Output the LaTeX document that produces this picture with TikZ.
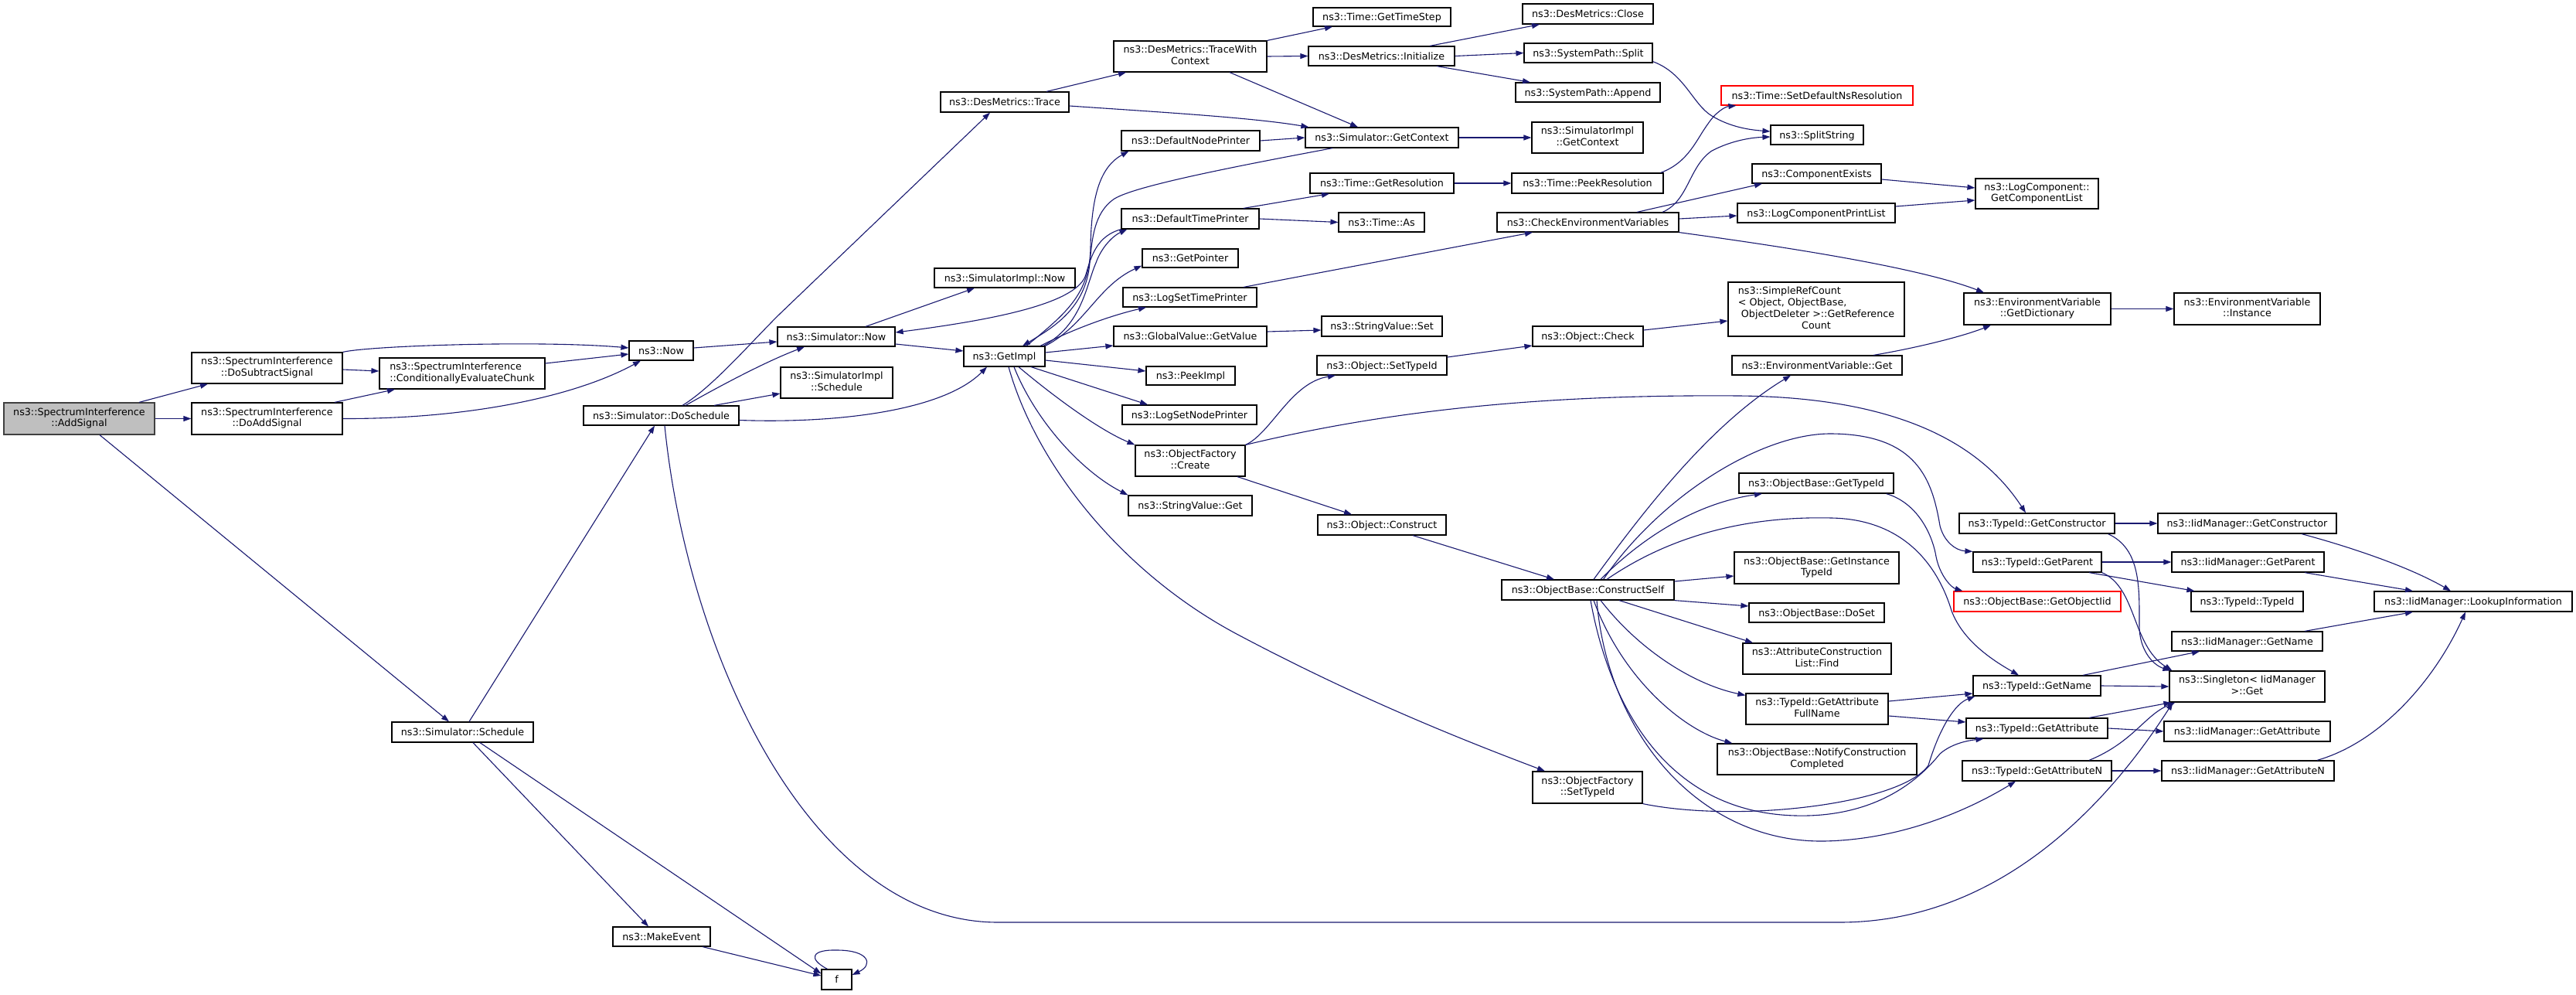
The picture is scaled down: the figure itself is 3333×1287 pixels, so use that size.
\documentclass[tikz,border=0pt]{standalone}
\usepackage{fontspec}
\setmainfont{DejaVu Sans}
\usetikzlibrary{arrows.meta}
\definecolor{edgec}{HTML}{191970}
\definecolor{rootfill}{HTML}{BFBFBF}
\newcommand\nodefont{\fontsize{12.7}{14.8}\selectfont}
\newcommand\twoline[2]{\begin{tabular}{@{}l@{}}#1\\\multicolumn{1}{@{}c@{}}{#2}\end{tabular}}
\newcommand\gnode[7][box1]{%
  \pgfmathsetmacro\ndcx{(#3+#5)/2}%
  \pgfmathsetmacro\ndcy{(#4+#6)/2}%
  \pgfmathsetmacro\ndw{#5-#3}%
  \pgfmathsetmacro\ndh{#6-#4}%
  \node[#1,minimum width=\ndw pt,minimum height=\ndh pt] (#2) at (\ndcx,\ndcy) {#7};}
\tikzset{
  boxbase/.style={draw=black, line width=1.2pt, fill=white, inner sep=0pt, font=\nodefont},
  box1/.style={boxbase, text height=9.3pt, text depth=0pt},
  box2/.style={boxbase},
  rootbox/.style={box2, fill=rootfill, draw=black!75},
  redbox/.style={box1, draw=red},
  call/.style={draw=edgec, line width=1.1pt, -{Triangle[length=10pt,width=7pt]}},
}
\begin{document}
\begin{tikzpicture}[x=1pt,y=-1pt]
\fill[white] (0,0) rectangle (3333,1287);
\useasboundingbox (0,0) rectangle (3333,1287);
% ---------------- nodes ----------------
\gnode[rootbox]{root}{5}{521}{200}{562}{\twoline{ns3::SpectrumInterference}{::AddSignal}}
\gnode[box2]{dosub}{248}{456}{443}{496}{\twoline{ns3::SpectrumInterference}{::DoSubtractSignal}}
\gnode[box2]{doadd}{248}{521}{443}{562}{\twoline{ns3::SpectrumInterference}{::DoAddSignal}}
\gnode[box2]{cond}{491}{463}{705}{503}{\twoline{ns3::SpectrumInterference}{::ConditionallyEvaluateChunk}}
\gnode{now}{814}{441}{897}{466}{ns3::Now}
\gnode{simnow}{1006}{423}{1158}{448}{ns3::Simulator::Now}
\gnode{siminow}{1209}{347}{1391}{372}{ns3::SimulatorImpl::Now}
\gnode[box2]{simisched}{1010}{475}{1155}{515}{\twoline{ns3::SimulatorImpl}{::Schedule}}
\gnode{dosched}{755}{525}{956}{550}{ns3::Simulator::DoSchedule}
\gnode{sched}{507}{934}{690}{960}{ns3::Simulator::Schedule}
\gnode{mkev}{793}{1199}{919}{1224}{ns3::MakeEvent}
\gnode{fnode}{1063}{1254}{1102}{1280}{f}
\gnode{trace}{1217}{119}{1383}{145}{ns3::DesMetrics::Trace}
\gnode[box2]{twc}{1441}{53}{1639}{93}{\twoline{ns3::DesMetrics::TraceWith}{Context}}
\gnode{gts}{1699}{10}{1877}{34}{ns3::Time::GetTimeStep}
\gnode{init}{1693}{60}{1882}{85}{ns3::DesMetrics::Initialize}
\gnode{close}{1970}{5}{2139}{31}{ns3::DesMetrics::Close}
\gnode{split}{1972}{56}{2138}{81}{ns3::SystemPath::Split}
\gnode{append}{1961}{107}{2148}{132}{ns3::SystemPath::Append}
\gnode{dnp}{1451}{169}{1630}{195}{ns3::DefaultNodePrinter}
\gnode{getctx}{1689}{165}{1887}{191}{ns3::Simulator::GetContext}
\gnode[box2]{simictx}{1982}{158}{2126}{198}{\twoline{ns3::SimulatorImpl}{::GetContext}}
\gnode{getres}{1695}{224}{1881}{250}{ns3::Time::GetResolution}
\gnode{peekres}{1956}{224}{2152}{250}{ns3::Time::PeekResolution}
\gnode{dtp}{1451}{270}{1629}{296}{ns3::DefaultTimePrinter}
\gnode{as}{1732}{275}{1843}{300}{ns3::Time::As}
\gnode{cev}{1937}{275}{2172}{300}{ns3::CheckEnvironmentVariables}
\gnode{getptr}{1478}{322}{1602}{346}{ns3::GetPointer}
\gnode{lstp}{1453}{372}{1626}{397}{ns3::LogSetTimePrinter}
\gnode{gvgv}{1441}{422}{1639}{448}{ns3::GlobalValue::GetValue}
\gnode{svset}{1710}{409}{1866}{435}{ns3::StringValue::Set}
\gnode{ocheck}{1983}{422}{2126}{448}{ns3::Object::Check}
\gnode{getimpl}{1247}{448}{1352}{474}{ns3::GetImpl}
\gnode{peekimpl}{1483}{474}{1598}{498}{ns3::PeekImpl}
\gnode{osettid}{1704}{460}{1872}{485}{ns3::Object::SetTypeId}
\gnode{lsnp}{1452}{524}{1626}{549}{ns3::LogSetNodePrinter}
\gnode[box2]{ofcreate}{1469}{576}{1611}{616}{\twoline{ns3::ObjectFactory}{::Create}}
\gnode{svget}{1460}{641}{1620}{667}{ns3::StringValue::Get}
\gnode{oconstr}{1705}{666}{1871}{692}{ns3::Object::Construct}
\gnode{cself}{1943}{750}{2166}{776}{ns3::ObjectBase::ConstructSelf}
\gnode[box2]{ofsettid}{1983}{998}{2125}{1039}{\twoline{ns3::ObjectFactory}{::SetTypeId}}
\gnode[redbox]{setdef}{2227}{111}{2475}{136}{ns3::Time::SetDefaultNsResolution}
\gnode{splitstr}{2291}{162}{2411}{187}{ns3::SplitString}
\gnode{compex}{2267}{212}{2434}{237}{ns3::ComponentExists}
\gnode{lcpl}{2248}{263}{2452}{288}{ns3::LogComponentPrintList}
\gnode[box2]{gcl}{2556}{231}{2715}{270}{\twoline{ns3::LogComponent::}{GetComponentList}}
\gnode[box2]{src}{2236}{365}{2464}{435}{\begin{tabular}{@{}l@{}}ns3::SimpleRefCount\\< Object, ObjectBase,\\\ ObjectDeleter >::GetReference\\\multicolumn{1}{@{}c@{}}{Count}\end{tabular}}
\gnode[box2]{getdict}{2541}{379}{2731}{420}{\twoline{ns3::EnvironmentVariable}{::GetDictionary}}
\gnode[box2]{inst}{2813}{379}{3002}{420}{\twoline{ns3::EnvironmentVariable}{::Instance}}
\gnode{evget}{2241}{460}{2461}{485}{ns3::EnvironmentVariable::Get}
\gnode{obgtid}{2250}{612}{2450}{638}{ns3::ObjectBase::GetTypeId}
\gnode{tgc}{2535}{664}{2736}{690}{ns3::TypeId::GetConstructor}
\gnode{igc}{2792}{664}{3023}{690}{ns3::IidManager::GetConstructor}
\gnode[box2]{obgit}{2244}{714}{2457}{755}{\twoline{ns3::ObjectBase::GetInstance}{TypeId}}
\gnode{tgp}{2553}{714}{2719}{740}{ns3::TypeId::GetParent}
\gnode{igp}{2810}{714}{3007}{740}{ns3::IidManager::GetParent}
\gnode[redbox]{goiid}{2528}{765}{2744}{791}{ns3::ObjectBase::GetObjectIid}
\gnode{ttid}{2835}{765}{2980}{791}{ns3::TypeId::TypeId}
\gnode{lookup}{3072}{765}{3328}{791}{ns3::IidManager::LookupInformation}
\gnode{doset}{2263}{780}{2438}{805}{ns3::ObjectBase::DoSet}
\gnode{ign}{2810}{817}{3005}{842}{ns3::IidManager::GetName}
\gnode[box2]{acl}{2255}{832}{2447}{872}{\twoline{ns3::AttributeConstruction}{List::Find}}
\gnode[box2]{single}{2807}{868}{3008}{908}{\twoline{ns3::Singleton< IidManager}{ >::Get}}
\gnode{tgn}{2553}{874}{2718}{900}{ns3::TypeId::GetName}
\gnode[box2]{tgafn}{2259}{897}{2443}{937}{\twoline{ns3::TypeId::GetAttribute}{FullName}}
\gnode{tga}{2544}{929}{2727}{955}{ns3::TypeId::GetAttribute}
\gnode{iga}{2800}{933}{3015}{959}{ns3::IidManager::GetAttribute}
\gnode[box2]{notify}{2222}{962}{2480}{1002}{\twoline{ns3::ObjectBase::NotifyConstruction}{Completed}}
\gnode{tgan}{2539}{984}{2732}{1010}{ns3::TypeId::GetAttributeN}
\gnode{igan}{2797}{984}{3020}{1010}{ns3::IidManager::GetAttributeN}
% ---------------- edges ----------------
\draw[call] ([xshift=77.5pt]root.north) -- ([xshift=-76.5pt]dosub.south);
\draw[call] (root.east) -- (doadd.west);
\draw[call] ([xshift=26.5pt]root.south) -- ([xshift=-17.5pt]sched.north);
\draw[call] ([yshift=-2pt]dosub.east) -- ([yshift=3pt]cond.west);
\draw[call] (dosub.north east) .. controls (480,447) and (700,440) .. ([yshift=3.5pt]now.west);
\draw[call] ([xshift=87.5pt]doadd.north) -- ([xshift=-87pt]cond.south);
\draw[call] (doadd.east) .. controls (600,542) and (740,515) .. ([xshift=-26.5pt]now.south);
\draw[call] ([yshift=13pt]cond.east) -- ([yshift=-4.5pt]now.west);
\draw[call] ([yshift=3.5pt]now.east) -- ([yshift=-6.5pt]simnow.west);
\draw[call] ([xshift=38pt]simnow.north) -- ([xshift=-39pt]siminow.south);
\draw[call] ([yshift=-9.5pt]simnow.east) -- ([yshift=7pt]getimpl.west);
\draw[call] (dtp.south west) .. controls (1420,305) and (1412,330) .. (1405,355) .. controls (1395,390) and (1300,412) .. ([yshift=5.5pt]simnow.east);
\draw[call] ([xshift=-64pt]getctx.south) .. controls (1600,215) and (1470,240) .. (1442,257) .. controls (1415,275) and (1413,310) .. (1410,340) .. controls (1405,400) and (1360,425) .. ([xshift=23.5pt]getimpl.north);
\draw[call] ([xshift=28.5pt]getimpl.north) .. controls (1380,405) and (1410,380) .. (1411,320) .. controls (1412,250) and (1425,215) .. ([xshift=10pt]dnp.south west);
\draw[call] ([xshift=50.5pt]getimpl.north) .. controls (1400,420) and (1405,370) .. (1418,340) .. controls (1425,320) and (1440,305) .. ([xshift=8pt]dtp.south west);
\draw[call] (getimpl.north east) .. controls (1405,420) and (1420,370) .. ([yshift=3pt]getptr.south west);
\draw[call] ([xshift=46.5pt]getimpl.north) .. controls (1400,420) and (1450,405) .. ([xshift=-56.5pt]lstp.south);
\draw[call] ([yshift=5pt]getimpl.east) -- ([yshift=-12pt]gvgv.west);
\draw[call] ([yshift=-5pt]getimpl.east) -- ([yshift=6pt]peekimpl.west);
\draw[call] ([xshift=34.5pt]getimpl.south) -- ([xshift=-54pt]lsnp.north);
\draw[call] ([xshift=18.5pt]getimpl.south) .. controls (1360,510) and (1420,555) .. (ofcreate.north west);
\draw[call] ([xshift=12.5pt]getimpl.south) .. controls (1340,545) and (1400,610) .. (svget.north west);
\draw[call] ([xshift=5.5pt]getimpl.south) .. controls (1340,600) and (1450,740) .. (1600,820) .. controls (1760,905) and (1900,960) .. ([xshift=-55pt]ofsettid.north);
\draw[call] ([xshift=27.5pt]dosched.north) .. controls (923,500) and (974,440) .. (1010,405) -- ([xshift=-19pt]trace.south);
\draw[call] ([xshift=31.5pt]dosched.north) .. controls (930,500) and (990,468) .. ([xshift=-41pt]simnow.south);
\draw[call] ([xshift=68.5pt]dosched.north) -- ([yshift=-14pt]simisched.west);
\draw[call] ([yshift=-6pt]dosched.east) .. controls (1080,548) and (1220,532) .. ([xshift=-22.5pt]getimpl.south);
\draw[call] ([xshift=4.5pt]dosched.south) .. controls (890,850) and (1050,1192) .. (1290,1193) -- (2380,1193) .. controls (2600,1193) and (2740,1020) .. ([xshift=5pt]single.south west);
\draw[call] ([xshift=8.5pt]sched.north) -- ([xshift=-8.5pt]dosched.south);
\draw[call] ([xshift=13.5pt]sched.south) -- ([xshift=-17pt]mkev.north);
\draw[call] ([xshift=22.5pt]sched.south) -- ([yshift=-6pt]fnode.north west);
\draw[call] ([xshift=53pt]mkev.south) -- ([yshift=5pt]fnode.west);
\draw[call] ([xshift=-12pt]fnode.north) .. controls (1045,1240) and (1050,1228) .. (1083,1229) .. controls (1125,1229) and (1130,1248) .. ([yshift=6pt]fnode.east);
\draw[call] ([xshift=54pt]trace.north) -- ([xshift=-83pt]twc.south);
\draw[call] ([yshift=-5pt]trace.east) .. controls (1500,145) and (1620,152) .. ([xshift=5pt]getctx.north west);
\draw[call] (twc.north east) -- ([xshift=-64pt]gts.south);
\draw[call] (twc.east) -- (init.west);
\draw[call] ([xshift=51pt]twc.south) -- ([xshift=-31pt]getctx.north);
\draw[call] ([xshift=62.5pt]init.north) -- ([xshift=-62.5pt]close.south);
\draw[call] (init.east) -- (split.west);
\draw[call] ([xshift=71.5pt]init.south) -- ([xshift=-74.5pt]append.north);
\draw[call] ([yshift=2pt]split.south east) .. controls (2180,95) and (2190,135) .. (2215,150) .. controls (2240,165) and (2265,168) .. ([yshift=4.5pt]splitstr.west);
\draw[call] (dnp.east) -- (getctx.west);
\draw[call] (getctx.east) -- (simictx.west);
\draw[call] ([xshift=69pt]dtp.north) -- ([xshift=-68pt]getres.south);
\draw[call] (dtp.east) -- (as.west);
\draw[call] (getres.east) -- (peekres.west);
\draw[call] ([xshift=-4pt]peekres.north east) .. controls (2185,210) and (2195,180) .. (2210,160) .. controls (2220,145) and (2232,138) .. ([xshift=20pt]setdef.south west);
\draw[call] ([xshift=69.5pt]lstp.north) -- ([xshift=-71.5pt]cev.south);
\draw[call] ([xshift=96.5pt]cev.north) .. controls (2185,260) and (2185,215) .. (2215,195) .. controls (2240,182) and (2265,178) .. ([yshift=-2.5pt]splitstr.west);
\draw[call] ([xshift=63.5pt]cev.north) -- ([xshift=-70.5pt]compex.south);
\draw[call] ([yshift=4.5pt]cev.east) -- ([yshift=-3.5pt]lcpl.west);
\draw[call] (cev.south east) .. controls (2300,318) and (2480,345) .. ([xshift=-69pt]getdict.north);
\draw[call] ([yshift=-7.5pt]compex.east) -- ([yshift=7.5pt]gcl.west);
\draw[call] ([yshift=8.5pt]lcpl.east) -- ([yshift=-8.5pt]gcl.west);
\draw[call] (getdict.east) -- (inst.west);
\draw[call] ([yshift=6pt]gvgv.east) -- ([yshift=-5pt]svset.west);
\draw[call] ([yshift=10.5pt]osettid.east) -- ([yshift=-12pt]ocheck.west);
\draw[call] ([yshift=8pt]ocheck.east) -- ([yshift=-15pt]src.west);
\draw[call] (ofcreate.north east) .. controls (1645,560) and (1670,495) .. ([xshift=-60pt]osettid.south);
\draw[call] (ofcreate.north east) .. controls (1800,530) and (2000,510) .. (2250,512) .. controls (2450,514) and (2560,570) .. ([xshift=-14.5pt]tgc.north);
\draw[call] ([xshift=61pt]ofcreate.south) -- ([xshift=-39pt]oconstr.north);
\draw[call] ([xshift=40pt]oconstr.south) -- ([xshift=-43.5pt]cself.north);
\draw[call] ([xshift=73pt]evget.north) .. controls (2480,450) and (2540,435) .. ([xshift=-60pt]getdict.south);
\draw[call] ([xshift=7.5pt]cself.north) .. controls (2120,670) and (2210,550) .. ([xshift=-34pt]evget.south);
\draw[call] ([xshift=16.5pt]cself.north) .. controls (2130,690) and (2200,650) .. ([xshift=-70pt]obgtid.south);
\draw[call] ([xshift=20pt]cself.north) .. controls (2150,640) and (2280,560) .. (2370,561) .. controls (2480,562) and (2500,620) .. (2510,680) .. controls (2515,700) and (2530,712) .. (tgp.north west);
\draw[call] ([yshift=11pt]cself.east) -- ([yshift=-10.5pt]obgit.west);
\draw[call] ([xshift=24.5pt]cself.north) .. controls (2180,680) and (2290,668) .. (2370,670) .. controls (2470,672) and (2510,740) .. (2525,790) .. controls (2540,830) and (2580,855) .. ([xshift=-23.5pt]tgn.north);
\draw[call] (cself.south east) -- ([yshift=8.5pt]doset.west);
\draw[call] ([xshift=40.5pt]cself.south) -- ([xshift=-83pt]acl.north);
\draw[call] ([xshift=16.5pt]cself.south) .. controls (2120,840) and (2190,885) .. ([yshift=-3pt]tgafn.north west);
\draw[call] ([xshift=7.5pt]cself.south) .. controls (2100,880) and (2180,945) .. ([xshift=20pt]notify.north west);
\draw[call] ([xshift=3.5pt]cself.south) .. controls (2080,900) and (2150,1060) .. (2340,1055) .. controls (2440,1052) and (2490,1000) .. (2510,975) .. controls (2525,962) and (2545,958) .. ([xshift=23pt]tga.south west);
\draw[call] ([xshift=11.5pt]cself.south) .. controls (2080,950) and (2200,1090) .. (2360,1088) .. controls (2470,1086) and (2560,1040) .. ([xshift=-27.5pt]tgan.south);
\draw[call] (ofsettid.south east) .. controls (2250,1065) and (2460,1040) .. (2495,990) .. controls (2510,940) and (2530,910) .. ([xshift=3pt]tgn.south west);
\draw[call] ([xshift=-10pt]obgtid.south east) .. controls (2480,650) and (2500,690) .. (2505,720) .. controls (2510,745) and (2525,760) .. ([xshift=12pt]goiid.north west);
\draw[call] ([yshift=10pt]tgafn.east) -- ([yshift=-10pt]tgn.west);
\draw[call] ([yshift=-9pt]tgafn.east) -- ([yshift=8pt]tga.west);
\draw[call] (tgc.east) -- (igc.west);
\draw[call] ([xshift=-9pt]tgc.south east) .. controls (2770,710) and (2768,760) .. (2768,810) .. controls (2768,840) and (2785,860) .. ([xshift=2pt]single.north west);
\draw[call] (tgp.east) -- (igp.west);
\draw[call] ([xshift=67pt]tgp.south) -- ([xshift=5pt]ttid.north west);
\draw[call] (tgp.south east) .. controls (2765,760) and (2758,835) .. ([xshift=4pt]single.north west);
\draw[call] ([xshift=59.5pt]tgn.north) -- ([xshift=-61.5pt]ign.south);
\draw[call] (tgn.east) -- (single.west);
\draw[call] ([xshift=67.5pt]tga.north) -- ([xshift=3pt]single.south west);
\draw[call] (tga.east) -- (iga.west);
\draw[call] ([xshift=67.5pt]tgan.north) .. controls (2760,960) and (2775,925) .. ([xshift=8pt]single.south west);
\draw[call] (tgan.east) -- (igan.west);
\draw[call] ([xshift=70.5pt]igc.south) .. controls (3050,710) and (3120,735) .. ([xshift=-29pt]lookup.north);
\draw[call] ([xshift=73.5pt]igp.south) -- ([xshift=-78pt]lookup.north);
\draw[call] ([xshift=74.5pt]ign.north) -- ([xshift=-78pt]lookup.south);
\draw[call] ([xshift=89.5pt]igan.north) .. controls (3080,960) and (3150,880) .. ([xshift=-10pt]lookup.south);
\end{tikzpicture}
\end{document}
